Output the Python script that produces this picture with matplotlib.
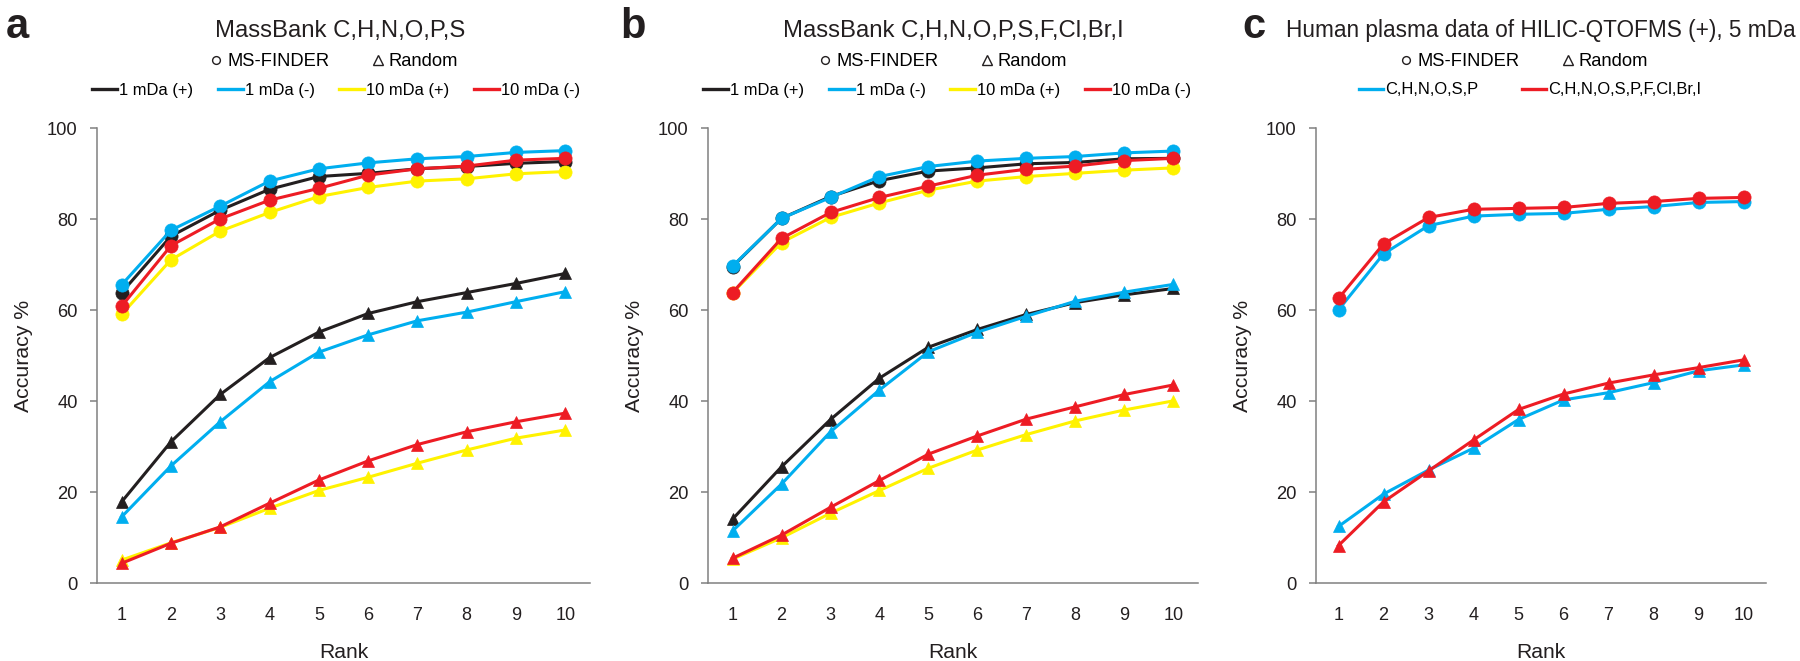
import matplotlib
matplotlib.use("Agg")
import matplotlib.pyplot as plt
from matplotlib.lines import Line2D

plt.rcParams['font.family'] = ['Liberation Sans', 'DejaVu Sans']

ranks = [1, 2, 3, 4, 5, 6, 7, 8, 9, 10]

# Panel a: MassBank C,H,N,O,P,S
a_msf_1p = [63.9, 76.3, 82.0, 86.6, 89.4, 90.1, 91.1, 91.6, 92.3, 92.7]
a_msf_1n = [65.6, 77.6, 82.9, 88.4, 91.1, 92.4, 93.3, 93.8, 94.7, 95.1]
a_msf_10p = [59.1, 71.1, 77.4, 81.5, 85.0, 87.0, 88.4, 88.9, 90.0, 90.5]
a_msf_10n = [60.9, 74.2, 80.1, 84.2, 86.8, 89.7, 91.1, 91.7, 93.0, 93.4]
a_rnd_1p = [17.9, 31.1, 41.5, 49.6, 55.2, 59.3, 61.9, 63.9, 65.9, 68.1]
a_rnd_1n = [14.6, 25.8, 35.5, 44.3, 50.8, 54.6, 57.7, 59.6, 61.9, 64.1]
a_rnd_10p = [5.1, 8.9, 12.3, 16.5, 20.4, 23.3, 26.4, 29.3, 31.9, 33.7]
a_rnd_10n = [4.4, 8.8, 12.4, 17.6, 22.7, 26.9, 30.5, 33.3, 35.5, 37.4]

# Panel b: MassBank C,H,N,O,P,S,F,Cl,Br,I
b_msf_1p = [69.6, 80.2, 85.0, 88.5, 90.6, 91.3, 92.2, 92.5, 93.3, 93.4]
b_msf_1n = [69.7, 80.2, 84.8, 89.4, 91.6, 92.8, 93.4, 93.8, 94.6, 95.0]
b_msf_10p = [63.8, 74.9, 80.4, 83.6, 86.4, 88.4, 89.4, 90.1, 90.8, 91.3]
b_msf_10n = [63.9, 75.8, 81.5, 84.8, 87.3, 89.7, 91.0, 91.7, 92.9, 93.4]
b_rnd_1p = [14.1, 25.6, 36.0, 45.1, 51.9, 55.8, 59.1, 61.7, 63.4, 64.8]
b_rnd_1n = [11.5, 21.8, 33.3, 42.5, 50.9, 55.2, 58.7, 62.0, 64.0, 65.7]
b_rnd_10p = [5.3, 10.0, 15.4, 20.4, 25.3, 29.3, 32.7, 35.7, 38.1, 40.1]
b_rnd_10n = [5.5, 10.6, 16.7, 22.6, 28.4, 32.4, 36.1, 38.8, 41.5, 43.6]

# Panel c: Human plasma data of HILIC-QTOFMS (+), 5 mDa
c_msf_chnosp = [60.1, 72.4, 78.6, 80.7, 81.1, 81.3, 82.2, 82.8, 83.7, 83.9]
c_msf_all = [62.6, 74.6, 80.4, 82.2, 82.4, 82.6, 83.5, 83.9, 84.6, 84.8]
c_rnd_chnosp = [12.5, 19.6, 24.9, 29.7, 36.0, 40.3, 41.9, 44.1, 46.7, 48.0]
c_rnd_all = [8.3, 17.9, 24.7, 31.5, 38.2, 41.6, 44.0, 45.8, 47.4, 49.1]

ab_labels = ['1 mDa (+)', '1 mDa (-)', '10 mDa (+)', '10 mDa (-)']
c_labels = ['C,H,N,O,S,P', 'C,H,N,O,S,P,F,Cl,Br,I']
titles = ['MassBank C,H,N,O,P,S', 'MassBank C,H,N,O,P,S,F,Cl,Br,I',
          'Human plasma data of HILIC-QTOFMS (+), 5 mDa']
panel_letters = ['a', 'b', 'c']

BLACK = '#231F20'
BLUE = '#00AEEF'
YELLOW = '#FFF200'
RED = '#ED1C24'
GREY = '#808080'

W, H = 1800, 661
fig = plt.figure(figsize=(W / 100, H / 100), dpi=100)

def px_axes(left, right, top, bottom):
    return fig.add_axes([left / W, 1 - bottom / H, (right - left) / W, (bottom - top) / H])

ax_a = px_axes(97, 590, 128.3, 583.3)
ax_b = px_axes(708, 1198, 128.3, 583.3)
ax_c = px_axes(1316, 1766, 128.3, 583.3)

LW = 2.2
MS_C = 9.5
MS_T = 9.0

def draw(ax, series_msf, series_rnd, colors):
    for vals, col in zip(series_rnd, colors):
        ax.plot(ranks, vals, color=col, lw=LW, marker='^', ms=MS_T, mfc=col, mec=col, mew=0.5)
    for vals, col in zip(series_msf, colors):
        ax.plot(ranks, vals, color=col, lw=LW, marker='o', ms=MS_C, mfc=col, mec=col, mew=0.5)

draw(ax_a, [a_msf_1p, a_msf_1n, a_msf_10p, a_msf_10n],
     [a_rnd_1p, a_rnd_1n, a_rnd_10p, a_rnd_10n], [BLACK, BLUE, YELLOW, RED])
draw(ax_b, [b_msf_1p, b_msf_1n, b_msf_10p, b_msf_10n],
     [b_rnd_1p, b_rnd_1n, b_rnd_10p, b_rnd_10n], [BLACK, BLUE, YELLOW, RED])
draw(ax_c, [c_msf_chnosp, c_msf_all], [c_rnd_chnosp, c_rnd_all], [BLUE, RED])

for ax in (ax_a, ax_b, ax_c):
    ax.set_xlim(0.5, 10.5)
    ax.set_ylim(0, 100)
    ax.set_yticks([0, 20, 40, 60, 80, 100])
    ax.set_xticks(ranks)
    for s in ('top', 'right'):
        ax.spines[s].set_visible(False)
    for s in ('left', 'bottom'):
        ax.spines[s].set_color(GREY)
        ax.spines[s].set_linewidth(1.1)
    ax.tick_params(axis='y', direction='out', length=5, width=1.1, color=GREY,
                   labelsize=13.2, labelcolor=BLACK, pad=9)
    ax.tick_params(axis='x', length=0, labelsize=13.0, labelcolor=BLACK, pad=17)
    ax.set_xlabel('Rank', fontsize=15.2, color=BLACK, labelpad=14)
    ax.set_ylabel('Accuracy %', fontsize=15.3, color=BLACK)
    ax.yaxis.set_label_coords(-64 / (ax.get_position().width * W), 0.5)

# titles and panel letters
title_cx = [340, 953, 1541]
title_fs = [17.2, 17.2, 16.3]
letter_x = [6, 620, 1242]
for tx, t, fs, lx, l in zip(title_cx, titles, title_fs, letter_x, panel_letters):
    fig.text(tx / W, 1 - 37.5 / H, t, ha='center', va='baseline', fontsize=fs, color=BLACK)
    fig.text(lx / W, 1 - 37.5 / H, l, ha='left', va='baseline', fontsize=30,
             fontweight='bold', color=BLACK)

# legends
marker_handles = [
    Line2D([], [], ls='none', marker='o', ms=5.6, mfc='none', mec=BLACK, mew=1.0),
    Line2D([], [], ls='none', marker='^', ms=6.5, mfc='none', mec=BLACK, mew=1.0),
]
marker_labels = ['MS-FINDER', 'Random']

def add_legends(ax, row1_cx, row2_cx, line_colors, line_labels, colspace):
    leg1 = ax.legend(marker_handles, marker_labels, ncol=2, frameon=False,
                     loc='center', bbox_to_anchor=(row1_cx / W, 1 - 61.7 / H),
                     bbox_transform=fig.transFigure, fontsize=13.2,
                     handlelength=0.5, handletextpad=0.35, columnspacing=2.4,
                     borderpad=0, borderaxespad=0)
    ax.add_artist(leg1)
    lh = [Line2D([], [], color=c, lw=2.4) for c in line_colors]
    ax.legend(lh, line_labels, ncol=len(lh), frameon=False,
              loc='center', bbox_to_anchor=(row2_cx / W, 1 - 90 / H),
              bbox_transform=fig.transFigure, fontsize=11.9,
              handlelength=1.5, handletextpad=0.12, columnspacing=colspace,
              borderpad=0, borderaxespad=0)

add_legends(ax_a, 335, 336, [BLACK, BLUE, YELLOW, RED], ab_labels, 1.5)
add_legends(ax_b, 944, 947, [BLACK, BLUE, YELLOW, RED], ab_labels, 1.5)
add_legends(ax_c, 1525, 1530, [BLUE, RED], c_labels, 2.6)

fig.savefig('out.png', dpi=100)
